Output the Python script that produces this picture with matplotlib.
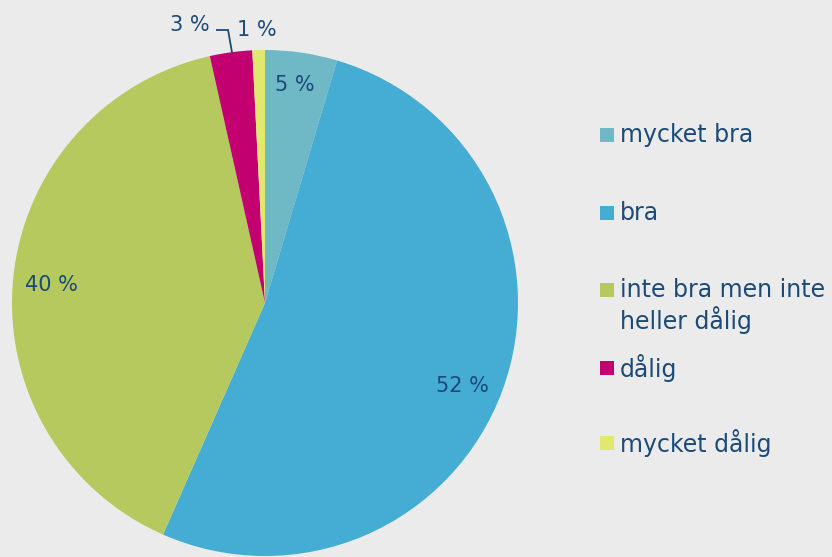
import matplotlib
matplotlib.use("Agg")
import matplotlib.pyplot as plt
import matplotlib.patches as mpatches

# ── data ──────────────────────────────────────────────────────────────
categories = ["mycket bra", "bra", "inte bra men inte\nheller dålig", "dålig", "mycket dålig"]
shares     = [4.6, 52.0, 39.9, 2.7, 0.8]
labels     = ["5 %", "52 %", "40 %", "3 %", "1 %"]
colors     = ["#6fb8c6", "#45acd4", "#b5c95e", "#c2006f", "#e1e86e"]

# label positions (data coords, pie radius = 1)
label_pos = [(0.119, 0.862), (0.779, -0.328), (-0.846, 0.071), (-0.296, 1.099), (-0.032, 1.079)]

BG = "#ebebeb"
TXT = "#1b4a78"
W, H = 832, 557
CX, CY, R = 265, 303, 253

fig = plt.figure(figsize=(W / 100, H / 100), dpi=100, facecolor=BG)
ax = fig.add_axes([(CX - R) / W, (H - CY - R) / H, 2 * R / W, 2 * R / H])
ax.set_facecolor(BG)

ax.pie(shares, colors=colors, startangle=90, counterclock=False,
       wedgeprops=dict(linewidth=0), radius=1)
ax.set_xlim(-1, 1); ax.set_ylim(-1, 1)
ax.set_aspect("equal")
ax.axis("off")

for (x, y), lab in zip(label_pos, labels):
    ax.text(x, y, lab, ha="center", va="center", fontsize=15, color=TXT, clip_on=False)

# leader line for the 3 % label
ax.plot([-0.190, -0.146, -0.130], [1.079, 1.079, 0.988], color=TXT, lw=1.3,
        clip_on=False, solid_joinstyle="miter")

# ── legend ────────────────────────────────────────────────────────────
leg_y = [135, 213, 290, 368, 443]
for cat, col, py in zip(categories, colors, leg_y):
    fig.patches.append(mpatches.Rectangle((600 / W, (H - py - 7) / H), 14 / W, 14 / H,
                                          transform=fig.transFigure, facecolor=col,
                                          edgecolor="none"))
    lines = cat.split("\n")
    for k, line in enumerate(lines):
        fig.text(620 / W, (H - py - 30 * k) / H, line, ha="left", va="center",
                 fontsize=17, color=TXT)

fig.savefig("out.png", dpi=100, facecolor=BG)
